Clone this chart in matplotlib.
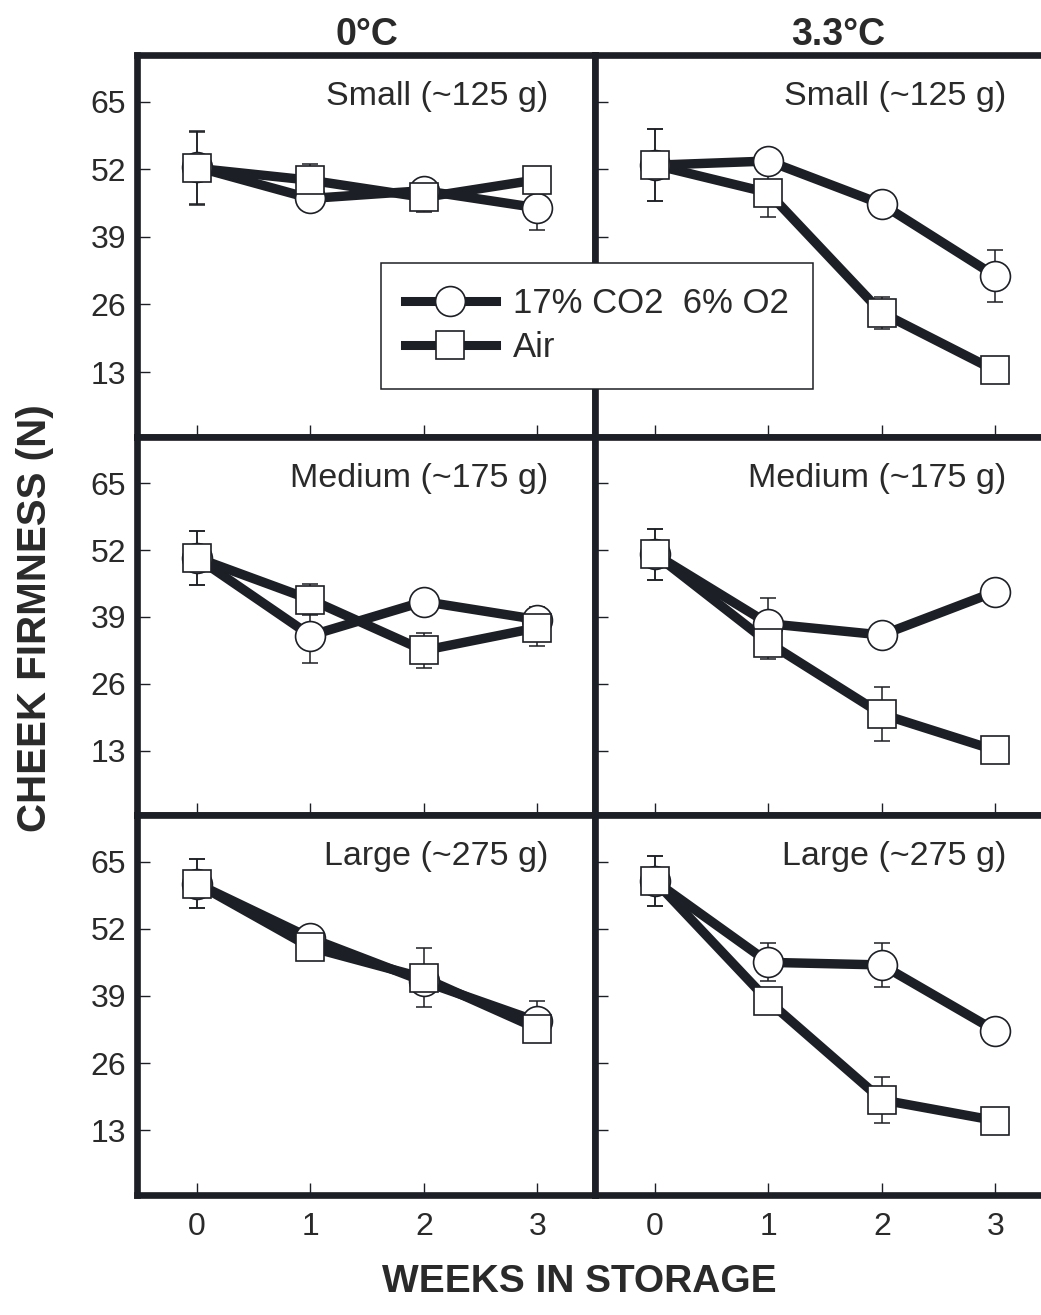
import matplotlib.pyplot as plt
from matplotlib.lines import Line2D

plt.rcParams['font.family'] = ['Liberation Sans', 'DejaVu Sans']

weeks = [0, 1, 2, 3]
yticks = [13, 26, 39, 52, 65]
temps = ['0\u00b0C', '3.3\u00b0C']
sizes = ['Small (~125 g)', 'Medium (~175 g)', 'Large (~275 g)']
series_names = ['17% CO2  6% O2', 'Air']

# small fruit
small_0c_ca = [52.4, 46.4, 47.9, 44.6]
small_0c_ca_err = [7.0, 1.0, 1.8, 4.3]
small_0c_air = [52.2, 49.9, 46.6, 50.0]
small_0c_air_err = [7.0, 3.1, 2.9, 1.0]
small_33_ca = [52.8, 53.6, 45.3, 31.5]
small_33_ca_err = [6.9, 1.0, 1.0, 5.0]
small_33_air = [52.8, 47.5, 24.4, 13.3]
small_33_air_err = [6.9, 4.7, 3.1, 1.0]

# medium fruit
medium_0c_ca = [50.5, 35.4, 42.0, 38.5]
medium_0c_ca_err = [5.2, 5.3, 1.0, 2.5]
medium_0c_air = [50.5, 42.4, 32.5, 36.9]
medium_0c_air_err = [5.2, 3.0, 3.4, 3.6]
medium_33_ca = [51.2, 37.7, 35.5, 43.9]
medium_33_ca_err = [5.0, 4.9, 1.0, 1.0]
medium_33_air = [51.2, 34.0, 20.1, 13.1]
medium_33_air_err = [5.0, 3.1, 5.2, 1.0]

# large fruit
large_0c_ca = [60.7, 50.2, 41.8, 34.1]
large_0c_ca_err = [4.7, 1.0, 1.0, 3.9]
large_0c_air = [60.7, 48.4, 42.5, 32.7]
large_0c_air_err = [4.7, 1.0, 5.7, 1.0]
large_33_ca = [61.2, 45.5, 45.0, 32.3]
large_33_ca_err = [4.8, 3.7, 4.3, 1.0]
large_33_air = [61.2, 38.0, 18.9, 14.9]
large_33_air_err = [4.8, 1.0, 4.5, 1.0]

panels = [
    [(small_0c_ca, small_0c_ca_err, small_0c_air, small_0c_air_err),
     (small_33_ca, small_33_ca_err, small_33_air, small_33_air_err)],
    [(medium_0c_ca, medium_0c_ca_err, medium_0c_air, medium_0c_air_err),
     (medium_33_ca, medium_33_ca_err, medium_33_air, medium_33_air_err)],
    [(large_0c_ca, large_0c_ca_err, large_0c_air, large_0c_air_err),
     (large_33_ca, large_33_ca_err, large_33_air, large_33_air_err)],
]

W, H = 1041, 1315
line_col = '#1c1f25'
text_col = '#2a2a2a'
LW = 6.8

fig = plt.figure(figsize=(W / 100, H / 100), dpi=100)

col_left = [137, 595]
col_w = 458
row_top = [55, 437, 815]
row_h = [382, 378, 380]

for r in range(3):
    for c in range(2):
        x0 = col_left[c] / W
        y0 = 1 - (row_top[r] + row_h[r]) / H
        ax = fig.add_axes([x0, y0, col_w / W, row_h[r] / H])
        ca, ca_err, air, air_err = panels[r][c]

        # error bars go under everything
        ax.errorbar(weeks, ca, yerr=ca_err, fmt='none', ecolor=line_col,
                    elinewidth=1.1, capsize=5.5, capthick=1.1, zorder=1)
        ax.errorbar(weeks, air, yerr=air_err, fmt='none', ecolor=line_col,
                    elinewidth=1.1, capsize=5.5, capthick=1.1, zorder=1)
        ax.plot(weeks, ca, color=line_col, lw=LW, zorder=2, solid_capstyle='butt')
        ax.plot(weeks, air, color=line_col, lw=LW, zorder=2, solid_capstyle='butt')
        ax.plot(weeks, ca, 'o', ms=21.5, mfc='white', mec=line_col, mew=1.2, zorder=3)
        ax.plot(weeks, air, 's', ms=19.5, mfc='white', mec=line_col, mew=1.2, zorder=4)

        ax.set_xlim(-0.53, 3.51)
        ax.set_ylim(0.5, 74)
        ax.set_xticks(weeks)
        ax.set_yticks(yticks)
        ax.tick_params(axis='both', direction='in', length=9, width=1,
                       color=line_col, labelsize=23, labelcolor=text_col)
        ax.tick_params(axis='y', pad=8)
        ax.tick_params(axis='x', pad=12)
        if c == 1:
            ax.set_yticklabels([])
        if r < 2:
            ax.set_xticklabels([])
        for s in ax.spines.values():
            s.set_linewidth(4.8)
            s.set_color(line_col)

        ax.text(3.1, 66, sizes[r], ha='right', va='center', fontsize=24.5,
                color=text_col)

# column titles
fig.text(367 / W, 1 - 35 / H, temps[0], ha='center', va='center',
         fontsize=27, fontweight='bold', color=text_col)
fig.text(838 / W, 1 - 35 / H, temps[1], ha='center', va='center',
         fontsize=27, fontweight='bold', color=text_col)

fig.text(35 / W, 1 - 618 / H, 'CHEEK FIRMNESS (N)', rotation=90,
         ha='center', va='center', fontsize=29, fontweight='bold', color=text_col)
fig.text(579 / W, 1 - 1282 / H, 'WEEKS IN STORAGE', ha='center', va='center',
         fontsize=28, fontweight='bold', color=text_col)

handles = [
    Line2D([], [], color=line_col, lw=6.5, marker='o', ms=21.5,
           mfc='white', mec=line_col, mew=1.2),
    Line2D([], [], color=line_col, lw=6.5, marker='s', ms=19.5,
           mfc='white', mec=line_col, mew=1.2),
]
leg = fig.legend(handles, series_names, loc='upper left',
                 bbox_to_anchor=(381 / W, 1 - 263 / H), borderaxespad=0,
                 fontsize=25, handlelength=2.6, handletextpad=0.5,
                 labelspacing=0.32, borderpad=0.7, fancybox=False,
                 framealpha=1, edgecolor=line_col)
leg.get_frame().set_linewidth(1.1)
for t in leg.get_texts():
    t.set_color(text_col)

fig.savefig('out.png', dpi=100, facecolor='white')
